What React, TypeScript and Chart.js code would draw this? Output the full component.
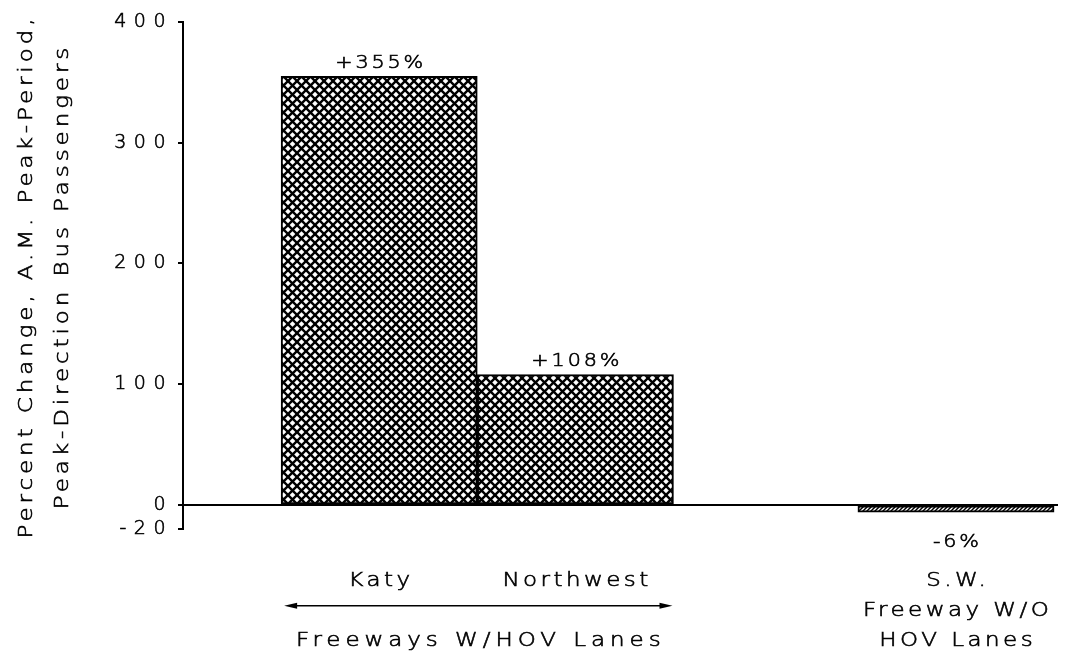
import React, { useEffect, useRef } from 'react';
import { Chart, registerables } from 'chart.js';

Chart.register(...registerables);

const FONT = "'DejaVu Sans', sans-serif";
const WEIGHT = '200';

// Corridors, their A.M. peak-period bus ridership change and where each bar sits on the x axis
const corridors = ['Katy', 'Northwest', 'S.W.'];
const corridorLabelLines = [['Katy'], ['Northwest'], ['S.W.', 'Freeway W/O', 'HOV Lanes']];
const pctChange = [355, 108, -6];
const slotPositions = [1, 2, 3.94];
const hovGroup = [0, 1];
const hovGroupLabel = 'Freeways W/HOV Lanes';
const yTickValues = [-20, 0, 100, 200, 300, 400];
const yTitleLines = ['Percent Change, A.M. Peak-Period,', 'Peak-Direction Bus Passengers'];

// horizontally widened, letter-spaced text with a slight outline for weight
const STRETCH = 1.15;
const TEXT_STROKE = 0.6;

function drawSpaced(
  ctx: CanvasRenderingContext2D,
  txt: string,
  x: number,
  y: number,
  size: number,
  ls: number
) {
  ctx.save();
  ctx.translate(x, y);
  ctx.scale(STRETCH, 1);
  ctx.font = `${WEIGHT} ${size}px ${FONT}`;
  (ctx as any).letterSpacing = `${ls}px`;
  ctx.textAlign = 'center';
  ctx.textBaseline = 'alphabetic';
  ctx.lineWidth = TEXT_STROKE;
  ctx.strokeStyle = '#000';
  ctx.fillText(txt, ls / 2, 0);
  ctx.strokeText(txt, ls / 2, 0);
  ctx.restore();
}

function crossHatch(ctx: CanvasRenderingContext2D): CanvasPattern {
  const s = 9;
  const tile = document.createElement('canvas');
  tile.width = s;
  tile.height = s;
  const g = tile.getContext('2d')!;
  g.fillStyle = '#fff';
  g.fillRect(0, 0, s, s);
  g.strokeStyle = '#000';
  g.lineWidth = 2.4;
  for (const d of [-s, 0, s]) {
    g.beginPath();
    g.moveTo(d - 1, -1);
    g.lineTo(d + s + 1, s + 1);
    g.stroke();
    g.beginPath();
    g.moveTo(d - 1, s + 1);
    g.lineTo(d + s + 1, -1);
    g.stroke();
  }
  return ctx.createPattern(tile, 'repeat')!;
}

function slashHatch(ctx: CanvasRenderingContext2D): CanvasPattern {
  const s = 4;
  const tile = document.createElement('canvas');
  tile.width = s;
  tile.height = s;
  const g = tile.getContext('2d')!;
  g.fillStyle = '#000';
  g.fillRect(0, 0, s, s);
  g.strokeStyle = '#fff';
  g.lineWidth = 1.3;
  for (const d of [-s, 0, s]) {
    g.beginPath();
    g.moveTo(d - 1, s + 1);
    g.lineTo(d + s + 1, -1);
    g.stroke();
  }
  return ctx.createPattern(tile, 'repeat')!;
}

const corridorAnnotations = {
  id: 'corridorAnnotations',
  beforeDraw(chart: any) {
    // spacing used by the y-axis tick labels
    chart.ctx.letterSpacing = '7.5px';
  },
  afterDraw(chart: any) {
    const { ctx, chartArea } = chart;
    const meta = chart.getDatasetMeta(0);
    const yScale = chart.scales.y;
    const zeroY = yScale.getPixelForValue(0);
    ctx.save();
    ctx.fillStyle = '#000';
    ctx.strokeStyle = '#000';

    // axis title, two rotated lines
    const midY = (chartArea.top + chartArea.bottom) / 2 + 3;
    const titleBaselines = [32, 68];
    yTitleLines.forEach((line, i) => {
      ctx.save();
      ctx.translate(titleBaselines[i], midY);
      ctx.rotate(-Math.PI / 2);
      drawSpaced(ctx, line, 0, 0, 20, 3.4);
      ctx.restore();
    });

    const bars = meta.data.map((bar: any) => bar.getProps(['x', 'y', 'width'], true));

    // value labels
    bars.forEach((b: any, i: number) => {
      const v = pctChange[i];
      const txt = (v > 0 ? '+' : '') + v + '%';
      const base = v >= 0 ? b.y - 8 : b.y + 35;
      drawSpaced(ctx, txt, b.x, base, 18, 2.5);
    });

    // corridor names under the bars
    const firstRow = zeroY + 81;
    const rowGap = 30;
    bars.forEach((b: any, i: number) => {
      corridorLabelLines[i].forEach((line, j) => {
        drawSpaced(ctx, line, b.x, firstRow + j * rowGap, 20, 3);
      });
    });

    // double-headed arrow spanning the HOV corridors
    const g0 = bars[hovGroup[0]];
    const g1 = bars[hovGroup[hovGroup.length - 1]];
    const ax0 = g0.x - g0.width / 2 + 3;
    const ax1 = g1.x + g1.width / 2 - 1;
    const ay = zeroY + 101;
    ctx.lineWidth = 1.5;
    ctx.beginPath();
    ctx.moveTo(ax0 + 8, ay);
    ctx.lineTo(ax1 - 8, ay);
    ctx.stroke();
    ctx.beginPath();
    ctx.moveTo(ax0, ay);
    ctx.lineTo(ax0 + 13, ay - 3);
    ctx.lineTo(ax0 + 13, ay + 3);
    ctx.closePath();
    ctx.fill();
    ctx.beginPath();
    ctx.moveTo(ax1, ay);
    ctx.lineTo(ax1 - 13, ay - 3);
    ctx.lineTo(ax1 - 13, ay + 3);
    ctx.closePath();
    ctx.fill();

    drawSpaced(ctx, hovGroupLabel, (ax0 + ax1) / 2, firstRow + 2 * rowGap, 20, 4.3);

    ctx.restore();
    ctx.letterSpacing = '0px';
  },
};

export default function App() {
  const canvasRef = useRef<HTMLCanvasElement | null>(null);

  useEffect(() => {
    const canvas = canvasRef.current;
    if (!canvas) return;
    const ctx = canvas.getContext('2d')!;
    const cross = crossHatch(ctx);
    const slash = slashHatch(ctx);

    const chart = new Chart(canvas, {
      type: 'bar',
      data: {
        labels: corridors,
        datasets: [
          {
            label: 'Percent change',
            data: slotPositions.map((x, i) => ({ x, y: pctChange[i] })),
            backgroundColor: [cross, cross, slash],
            borderColor: '#000',
            borderWidth: 2,
            borderSkipped: false,
            barPercentage: 1,
            categoryPercentage: 1,
          } as any,
        ],
      },
      options: {
        animation: false,
        responsive: false,
        devicePixelRatio: 1,
        layout: { padding: { left: 0, top: 22, right: 20, bottom: 131 } },
        plugins: {
          legend: { display: false },
          tooltip: { enabled: false },
          title: { display: false },
        },
        scales: {
          x: {
            type: 'linear',
            min: 0,
            max: 4.46,
            offset: false,
            display: false,
            ticks: { stepSize: 100 },
            grid: { display: false, offset: false },
          },
          y: {
            min: -20,
            max: 400,
            afterBuildTicks: (s: any) => {
              s.ticks = yTickValues.map((value) => ({ value }));
            },
            afterFit: (s: any) => {
              s.width = 183;
            },
            ticks: {
              font: { family: FONT, size: 19, weight: WEIGHT },
              color: '#000',
              textStrokeColor: '#000',
              textStrokeWidth: TEXT_STROKE,
              padding: 5,
              callback: (v: any) => String(v),
            },
            grid: {
              color: (c: any) => (c.tick && c.tick.value === 0 ? '#000' : 'rgba(0,0,0,0)'),
              lineWidth: 2,
              tickColor: '#000',
              tickLength: 5,
              drawTicks: true,
            },
            border: { display: true, color: '#000', width: 2 },
          },
        },
      } as any,
      plugins: [corridorAnnotations],
    });

    return () => chart.destroy();
  }, []);

  return (
    <div style={{ position: 'fixed', left: 0, top: 0, width: 1078, height: 660, background: '#fff' }}>
      <canvas ref={canvasRef} width={1078} height={660} style={{ display: 'block', width: 1078, height: 660 }} />
    </div>
  );
}
